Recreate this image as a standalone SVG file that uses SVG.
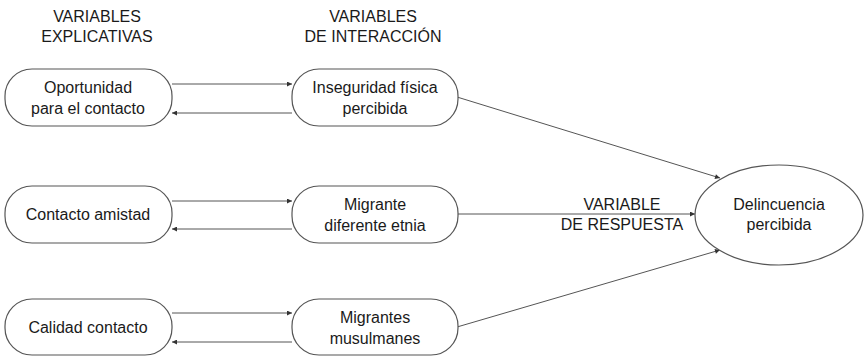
<svg xmlns="http://www.w3.org/2000/svg" width="865" height="357" viewBox="0 0 865 357">
<style>
text{font-family:"Liberation Sans",Arial,sans-serif;font-size:16px;fill:#1a1a1a;text-anchor:middle}
.box{fill:#fff;stroke:#555;stroke-width:1.2}
.edge{stroke:#555;stroke-width:1;fill:none;marker-end:url(#ah)}
</style>
<defs>
<marker id="ah" viewBox="0 0 10 10" refX="10" refY="5" markerWidth="7" markerHeight="5" markerUnits="userSpaceOnUse" orient="auto">
<path d="M0,0 L10,5 L0,10 z" fill="#333"/>
</marker>
</defs>
<rect width="865" height="357" fill="#fff"/>
<g id="headers">
<text x="97" y="22">VARIABLES</text>
<text x="97" y="42">EXPLICATIVAS</text>
<text x="373" y="22">VARIABLES</text>
<text x="373" y="42">DE INTERACCIÓN</text>
<text x="622" y="210">VARIABLE</text>
<text x="622" y="230">DE RESPUESTA</text>
</g>
<g id="connectors">
<line class="edge" x1="172" y1="84" x2="292" y2="84"/>
<line class="edge" x1="292" y1="113" x2="172" y2="113"/>
<line class="edge" x1="172" y1="201" x2="292" y2="201"/>
<line class="edge" x1="292" y1="229" x2="172" y2="229"/>
<line class="edge" x1="172" y1="313" x2="292" y2="313"/>
<line class="edge" x1="292" y1="342" x2="172" y2="342"/>
<line class="edge" x1="457" y1="97" x2="720" y2="178"/>
<line class="edge" x1="458" y1="214" x2="695" y2="214"/>
<line class="edge" x1="457" y1="327" x2="720" y2="250"/>
</g>
<g id="n1"><rect class="box" x="5" y="69" width="167" height="57" rx="27"/><text x="88" y="93">Oportunidad</text><text x="88" y="114">para el contacto</text></g>
<g id="n2"><rect class="box" x="5" y="186" width="167" height="57" rx="27"/><text x="88" y="220">Contacto amistad</text></g>
<g id="n3"><rect class="box" x="5" y="299" width="167" height="56" rx="27"/><text x="88" y="333">Calidad contacto</text></g>
<g id="m1"><rect class="box" x="292" y="69" width="166" height="57" rx="27"/><text x="375" y="93">Inseguridad física</text><text x="375" y="114">percibida</text></g>
<g id="m2"><rect class="box" x="292" y="186" width="166" height="57" rx="27"/><text x="375" y="210">Migrante</text><text x="375" y="231">diferente etnia</text></g>
<g id="m3"><rect class="box" x="292" y="299" width="166" height="56" rx="27"/><text x="375" y="323">Migrantes</text><text x="375" y="344">musulmanes</text></g>
<g id="out"><ellipse class="box" cx="779" cy="215" rx="84" ry="50"/><text x="779" y="210">Delincuencia</text><text x="779" y="230">percibida</text></g>
</svg>
